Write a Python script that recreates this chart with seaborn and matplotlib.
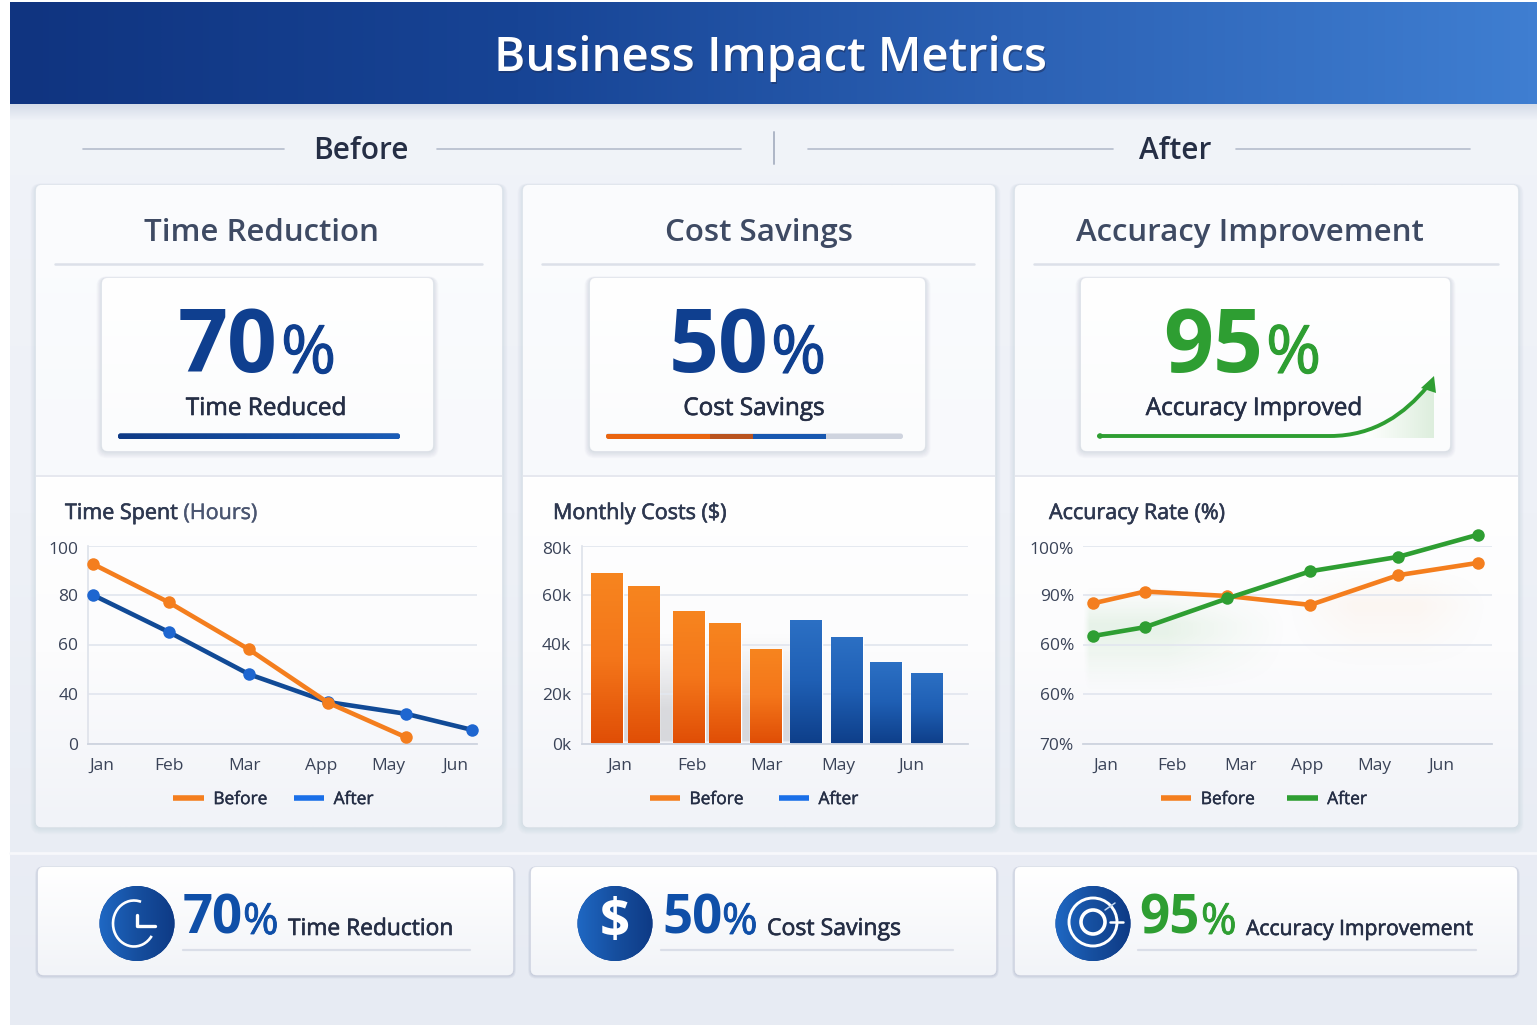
import numpy as np
import pandas as pd
import seaborn as sns
import matplotlib
matplotlib.use("Agg")
import matplotlib.pyplot as plt
import matplotlib.patheffects as pe
from matplotlib.colors import LinearSegmentedColormap, to_hex, to_rgb
from matplotlib.lines import Line2D
from matplotlib.patches import FancyBboxPatch, Circle, PathPatch, Polygon, Arc
from matplotlib.path import Path
from matplotlib.transforms import ScaledTranslation

# ---- chart data ----
time_months = [-0.127, 0.949, 2.082, 3.201, 4.306, 5.241]
time_before = [92.5, 77, 58, 33, 5]
time_after = [80, 65, 48, 33.5, 24, 11]
time_ticks = [0, 40, 60, 80, 100]
time_tick_pos = [0, 0.949, 2.025, 3.1, 4.05, 5.0]
time_labels = ["Jan", "Feb", "Mar", "App", "May", "Jun"]

cost_months = [-0.179, 0.323, 0.948, 1.443, 2.007, 2.557, 3.12, 3.66, 4.213]
cost_values = [68.8, 63.7, 53.7, 48.8, 38, 49.7, 43.1, 32.8, 28.4]
cost_period = ["Before"] * 5 + ["After"] * 4
cost_ticks = [0, 20, 40, 60, 80]
cost_tick_labels = ["0k", "20k", "40k", "60k", "80k"]
cost_tick_pos = [0, 0.99, 2.02, 2.997, 4.0]
cost_labels = ["Jan", "Feb", "Mar", "May", "Jun"]

acc_months = [-0.199, 0.582, 1.81, 3.05, 4.36, 5.557]
acc_before = [88.3, 90.7, 89.8, 88.0, 94.0, 96.5]
acc_after = [81.7, 83.5, 89.3, 94.8, 97.7, 102.2]
acc_ticks = [60, 70, 80, 90, 100]
acc_tick_labels = ["70%", "60%", "60%", "90%", "100%"]
acc_tick_pos = [0, 0.985, 2, 3, 4, 5]
acc_labels = ["Jan", "Feb", "Mar", "App", "May", "Jun"]

# ---- palette ----
ORANGE = "#F47E1E"
NAVY = "#0F3F8F"
ROYAL = "#1A6FE8"
GREEN = "#2E9E32"
INK = "#252E45"
SLATE = "#3E4A63"
GRID = "#E3E7EF"

W, H = 1537, 1029
sns.set_theme(style="white")
plt.rcParams["font.family"] = ["Open Sans", "DejaVu Sans"]
fig = plt.figure(figsize=(W / 100, H / 100), dpi=100, facecolor="white")

canvas = fig.add_axes([0, 0, 1, 1], zorder=0)
canvas.set_xlim(0, W)
canvas.set_ylim(H, 0)
canvas.axis("off")


def medium(color, width=0.45):
    """Thicken regular glyphs a little, for a medium text weight."""
    return [pe.withStroke(linewidth=width, foreground=color)]


def ramp(colors):
    return LinearSegmentedColormap.from_list("ramp", colors)


def gradient(ax, extent, colors, horizontal=False, clip=None, zorder=1, alpha=None):
    """Paint a linear colour ramp over extent=(left, right, bottom, top)."""
    values = np.linspace(0, 1, 256)
    values = values[None, :] if horizontal else values[:, None]
    xlim, ylim = ax.get_xlim(), ax.get_ylim()
    img = ax.imshow(values, extent=extent, origin="upper", aspect="auto",
                    cmap=ramp(colors), vmin=0, vmax=1, zorder=zorder,
                    interpolation="bilinear", alpha=alpha)
    if clip is not None:
        img.set_clip_path(clip)
    ax.set_xlim(xlim)
    ax.set_ylim(ylim)
    return img


def haze(ax, extent, color, peak, zorder=0.4, fade_left=0.12, fade_right=0.5, fade_top=0.5, fade_bottom=0.5):
    """Soft translucent tint that fades out towards the edges of extent."""
    u = np.linspace(0, 1, 200)
    hor = np.clip(u / fade_left, 0, 1) * np.clip((1 - u) / fade_right, 0, 1)
    ver = np.clip(u / fade_top, 0, 1) * np.clip((1 - u) / fade_bottom, 0, 1)
    rgba = np.zeros((200, 200, 4))
    rgba[..., :3] = to_rgb(color)
    rgba[..., 3] = peak * np.outer(ver, hor) ** 1.3
    xlim, ylim = ax.get_xlim(), ax.get_ylim()
    ax.imshow(rgba, extent=extent, origin="upper", aspect="auto", zorder=zorder, interpolation="bilinear")
    ax.set_xlim(xlim)
    ax.set_ylim(ylim)


def rounded(x0, y0, x1, y1, radius=6, **kw):
    patch = FancyBboxPatch((x0, y0), x1 - x0, y1 - y0,
                           boxstyle=f"round,pad=0,rounding_size={radius}", **kw)
    canvas.add_patch(patch)
    return patch


def shadow(x0, y0, x1, y1, depth=8, color="#5C6E93", strength=0.016, zorder=2):
    for i in range(depth, 0, -1):
        rounded(x0 - i * 0.7, y0 - i * 0.2, x1 + i * 0.7, y1 + i * 0.9, radius=6 + i * 0.5,
                facecolor=color, edgecolor="none", alpha=strength, zorder=zorder)


def card(x0, y0, x1, y1, top="#FFFFFF", bottom="#F3F5F9", zorder=3, edge="#EAECF2", **shadow_kw):
    shadow(x0, y0, x1, y1, zorder=zorder - 1, **shadow_kw)
    base = rounded(x0, y0, x1, y1, facecolor="#FFFFFF", edgecolor=edge, linewidth=0.6, zorder=zorder)
    gradient(canvas, (x0, x1, y1, y0), [top, bottom], clip=base, zorder=zorder + 0.1)
    return base


# ---- page background and header ----
page = canvas.add_patch(plt.Rectangle((10, 2), W - 10, 1023, facecolor="#EEF1F7", edgecolor="none", zorder=0.5))
gradient(canvas, (10, W, 1025, 2), ["#F1F4F9", "#EEF1F7", "#E7EBF3"], clip=page, zorder=0.6)
canvas.plot([10, W], [853, 853], color="#F7F8FB", lw=2, zorder=0.7)

header = canvas.add_patch(plt.Rectangle((10, 2), W - 10, 102, facecolor=NAVY, edgecolor="none", zorder=0.8))
gradient(canvas, (10, W, 104, 2), ["#103480", "#174495", "#2C62B5", "#3F7ED1"], horizontal=True, clip=header, zorder=0.9)
gradient(canvas, (10, W, 120, 104), ["#B9C4D8", "#EEF1F7"], zorder=0.7, alpha=0.5)
canvas.text(771.5, 72.5, "Business Impact Metrics", color="#1E3260", fontsize=34, fontweight="semibold", ha="center", va="baseline", zorder=1, alpha=0.55)
canvas.text(770, 71, "Business Impact Metrics", color="white", fontsize=34, fontweight="semibold", ha="center", va="baseline", zorder=1.1)

# ---- before / after strip ----
for x0, x1 in [(83, 284), (437, 741), (808, 1113), (1236, 1470)]:
    canvas.plot([x0, x1], [148.5, 148.5], color="#B4BCCC", lw=1.2, zorder=1)
canvas.plot([774, 774], [132, 164], color="#AEB6C6", lw=1.4, zorder=1)
canvas.text(361, 159, "Before", color=INK, fontsize=21.5, fontweight="semibold", ha="center", va="baseline", zorder=1)
canvas.text(1175, 159, "After", color=INK, fontsize=21.5, fontweight="semibold", ha="center", va="baseline", zorder=1)

# ---- metric cards ----
panels = [
    dict(box=(36, 502), title="Time Reduction", cx=261, rule=(55, 482), inner=(102, 433),
         num="70", num_x=178, pct_x=281, color=NAVY, caption="Time Reduced", cap_x=266),
    dict(box=(523, 995), title="Cost Savings", cx=759, rule=(542, 974), inner=(590, 925),
         num="50", num_x=669, pct_x=771, color=NAVY, caption="Cost Savings", cap_x=754),
    dict(box=(1015, 1518), title="Accuracy Improvement", cx=1250, rule=(1034, 1498), inner=(1081, 1450),
         num="95", num_x=1163, pct_x=1266, color=GREEN, caption="Accuracy Improved", cap_x=1254),
]
for p in panels:
    x0, x1 = p["box"]
    outer = card(x0, 185, x1, 827, top="#FBFCFE", bottom="#F4F6FA", strength=0.016)
    gradient(canvas, (x0, x1, 827, 477), ["#FFFFFF", "#FCFCFD", "#F1F3F8"], clip=outer, zorder=3.2)
    canvas.plot([x0, x1], [476, 476], color="#E1E4EC", lw=1.1, zorder=3.3)
    canvas.text(p["cx"], 241, p["title"], color=SLATE, fontsize=22.5, fontweight="semibold", ha="center", va="baseline", zorder=4)
    canvas.plot(p["rule"], [263.5, 263.5], color="#DCE0E9", lw=1.8, zorder=4)
    card(p["inner"][0], 278, p["inner"][1], 451, top="#FFFFFF", bottom="#FBFCFD", zorder=5, strength=0.024)
    canvas.text(p["num_x"], 372, p["num"], color=p["color"], fontsize=63, fontweight="bold", ha="left", va="baseline", zorder=6)
    canvas.text(p["pct_x"], 373, "%", color=p["color"], fontsize=48, ha="left", va="baseline", zorder=6,
                path_effects=medium(p["color"], 0.8))
    canvas.text(p["cap_x"], 415, p["caption"], color=INK, fontsize=17.5, ha="center", va="baseline", zorder=6,
                path_effects=medium(INK))

# progress bars
bar1 = rounded(118, 433.5, 400, 439, radius=2.5, facecolor=NAVY, edgecolor="none", zorder=6)
gradient(canvas, (118, 400, 439, 433.5), ["#0F3A85", "#1A5DB8"], horizontal=True, clip=bar1, zorder=6.1)
bar2 = rounded(606, 433.5, 903, 439, radius=2.5, facecolor="#CFD4DF", edgecolor="none", zorder=6)
for (x0, x1), col in zip([(606, 710), (710, 753), (753, 826)], ["#EA6510", "#B9531F", "#1858B0"]):
    seg = canvas.add_patch(plt.Rectangle((x0, 433.5), x1 - x0, 5.5, facecolor=col, edgecolor="none", zorder=6.1))
    seg.set_clip_path(bar2)

# rising accuracy arrow
curve_verts = [(1099, 436), (1330, 436), (1375, 436), (1405, 413), (1427, 387)]
curve_codes = [Path.MOVETO, Path.LINETO, Path.CURVE4, Path.CURVE4, Path.CURVE4]
area = PathPatch(Path(curve_verts + [(1434, 380), (1434, 438), (1330, 438), (1099, 438)],
                      curve_codes + [Path.LINETO] * 4), facecolor="none", edgecolor="none", zorder=6)
canvas.add_patch(area)
gradient(canvas, (1365, 1434, 438, 380), ["#FFFFFF", "#DDEEDD"], horizontal=True, clip=area, zorder=6)
canvas.add_patch(PathPatch(Path(curve_verts, curve_codes), facecolor="none", edgecolor=GREEN, lw=2.8, capstyle="round", zorder=6.2))
canvas.add_patch(Polygon([(1434, 376), (1421, 388), (1436, 393)], closed=True, facecolor=GREEN, edgecolor="none", zorder=6.3))
canvas.add_patch(Circle((1100, 436), 2.8, facecolor=GREEN, edgecolor="none", zorder=6.3))


# ---- chart axes ----
def chart_axes(left, right, top=545.5, bottom=743.5):
    ax = fig.add_axes([left / W, 1 - bottom / H, (right - left) / W, (bottom - top) / H], zorder=5)
    ax.patch.set_alpha(0)
    for side in ("top", "right", "left", "bottom"):
        ax.spines[side].set_visible(False)
    return ax


def finish(ax, ypos, ylabels, xpos, xlabels, legend_center, after_color, spacing, left_axis=False, ypad=7):
    ax.set_yticks(ypos, ylabels)
    ax.set_xticks(xpos, xlabels)
    ax.minorticks_off()
    ax.set_xlabel("")
    ax.set_ylabel("")
    ax.tick_params(axis="both", length=0, labelsize=12.5, labelcolor="#3A4358")
    ax.tick_params(axis="x", pad=10.5)
    ax.tick_params(axis="y", pad=ypad)
    ax.grid(axis="y", color=GRID, lw=1.3)
    ax.grid(axis="x", visible=False)
    ax.set_axisbelow(True)
    ax.spines["bottom"].set_visible(True)
    ax.spines["bottom"].set_color("#CED4DF")
    ax.spines["bottom"].set_linewidth(1.3)
    if left_axis:
        ax.spines["left"].set_visible(True)
        ax.spines["left"].set_color("#DFE3EB")
    # the topmost y label sits a little below its gridline
    top_label = ax.get_yticklabels()[-1]
    top_label.set_transform(top_label.get_transform() + ScaledTranslation(0, -3 / 100, fig.dpi_scale_trans))
    handles = [Line2D([], [], color=ORANGE, lw=4.0, solid_capstyle="butt", label="Before"),
               Line2D([], [], color=after_color, lw=4.0, solid_capstyle="butt", label="After")]
    leg = ax.legend(handles=handles, ncol=2, frameon=False, loc="center",
                    bbox_to_anchor=(legend_center[0] / W, 1 - legend_center[1] / H),
                    bbox_transform=fig.transFigure, fontsize=12.5,
                    handlelength=1.75, handletextpad=0.55, columnspacing=spacing)
    for label in leg.get_texts():
        label.set_color(INK)
        label.set_path_effects(medium(INK, 0.3))


def month_limits(ax, left, right, origin, unit):
    ax.set_xlim((left - origin) / unit, (right - origin) / unit)


def series(ax, months, values, line, dot):
    n = len(values)
    sns.lineplot(x=months[:n], y=values, ax=ax, color=line, lw=3.3, marker="o", markersize=9,
                 markeredgewidth=0, markerfacecolor=dot, clip_on=False, sort=False, zorder=4, legend=False)


# hours chart: axis ticks sit evenly spaced, so the scale is piecewise
ax1 = chart_axes(88, 477)
knots = np.array(time_ticks, dtype=float)
steps = np.arange(len(knots), dtype=float)
series(ax1, time_months, time_after, "#114A96", "#1E66D0")
series(ax1, time_months, time_before, ORANGE, ORANGE)
ax1.set_yscale("function", functions=(lambda v: np.interp(v, knots, steps), lambda s: np.interp(s, steps, knots)))
ax1.set_ylim(0, 100)
month_limits(ax1, 88, 477, 102, 70.6)
finish(ax1, time_ticks, [str(t) for t in time_ticks], time_tick_pos, time_labels, (273.5, 800), ROYAL, 1.5, left_axis=True)

# cost chart: bars are repainted with a vertical ramp, clipped to each seaborn bar
ax2 = chart_axes(582, 968)
cost_frame = pd.DataFrame({"month": cost_months, "cost": cost_values, "period": cost_period})
bar_palette = {"Before": "#F47E1E", "After": "#1E62BE"}
sns.barplot(data=cost_frame, x="month", y="cost", hue="period", palette=bar_palette, dodge=False,
            native_scale=True, width=0.88, ax=ax2, legend=False, saturation=1, errorbar=None)
ax2.set_ylim(0, 80)
month_limits(ax2, 582, 968, 620, 72.75)
bar_ramps = {to_hex(bar_palette["Before"]): ["#F7851F", "#F4761A", "#E04E06"],
             to_hex(bar_palette["After"]): ["#2C70C4", "#1F5FB4", "#0E3F8A"]}
for bar in ax2.patches:
    x, w, h = bar.get_x(), bar.get_width(), bar.get_height()
    gradient(ax2, (x, x + w, 0, h), bar_ramps[to_hex(bar.get_facecolor())], clip=bar, zorder=3)
haze(ax2, (-0.3, 2.7, 0, 45), "#8A8A90", 0.28, fade_left=0.05, fade_right=0.05, fade_top=0.7, fade_bottom=0.02)
finish(ax2, cost_ticks, cost_tick_labels, cost_tick_pos, cost_labels, (754, 800), ROYAL, 2.0, left_axis=True, ypad=8)

# accuracy chart: soft tint below each series, then the two lines
ax3 = chart_axes(1083, 1492)
ax3.set_ylim(60, 100)
month_limits(ax3, 1083, 1492, 1106, 67)
haze(ax3, (-0.35, 2.8, 70, 92), GREEN, 0.10, fade_left=0.03, fade_right=0.6, fade_top=0.35, fade_bottom=0.55)
haze(ax3, (2.6, 5.8, 74, 96), ORANGE, 0.05, fade_left=0.35, fade_right=0.35, fade_top=0.35, fade_bottom=0.6)
series(ax3, acc_months, acc_before, ORANGE, ORANGE)
series(ax3, acc_months, acc_after, GREEN, GREEN)
ax3.set_ylim(60, 100)
month_limits(ax3, 1083, 1492, 1106, 67)
finish(ax3, acc_ticks, acc_tick_labels, acc_tick_pos, acc_labels, (1264, 800), GREEN, 1.85, ypad=6.5)

for text_x, bold, light in [(65, "Time Spent", "(Hours)"), (553, "Monthly Costs ($)", ""), (1049, "Accuracy Rate (%)", "")]:
    head = canvas.text(text_x, 519, bold, color="#2E3850", fontsize=15.5, ha="left", va="baseline", zorder=6,
                       path_effects=medium("#2E3850", 0.45))
    if light:
        canvas.annotate(" " + light, xy=(1, 0), xycoords=head, va="bottom", ha="left", color="#4A5570", fontsize=15.5, zorder=6,
                        path_effects=medium("#4A5570", 0.3))

# ---- summary row ----
summary = [
    dict(box=(38, 513), icon=137, num="70", num_x=183, pct_x=243, color="#0F4FA8", text="Time Reduction", size=16.4, text_x=288, rule=(183, 470)),
    dict(box=(531, 996), icon=615, num="50", num_x=662, pct_x=722, color="#0F4FA8", text="Cost Savings", size=16.6, text_x=767, rule=(661, 953)),
    dict(box=(1015, 1517), icon=1093, num="95", num_x=1139, pct_x=1201, color=GREEN, text="Accuracy Improvement", size=15.2, text_x=1246, rule=(1138, 1476)),
]
for s in summary:
    card(s["box"][0], 867, s["box"][1], 975, top="#FFFFFF", bottom="#F2F4F8", strength=0.06, depth=4, color="#4F6288")
    disc = Circle((s["icon"], 923.5), 37.5, facecolor=NAVY, edgecolor="none", zorder=6)
    canvas.add_patch(disc)
    gradient(canvas, (s["icon"] - 38, s["icon"] + 38, 961, 886), ["#1F68C4", "#164F9F", "#0E3A85"], horizontal=True, clip=disc, zorder=6.1)
    canvas.text(s["num_x"], 934, s["num"], color=s["color"], fontsize=38, fontweight="bold", ha="left", va="baseline", zorder=6)
    canvas.text(s["pct_x"], 934, "%", color=s["color"], fontsize=31, ha="left", va="baseline", zorder=6,
                path_effects=medium(s["color"], 0.6))
    canvas.text(s["text_x"], 935, s["text"], color=INK, fontsize=s["size"], ha="left", va="baseline", zorder=6,
                path_effects=medium(INK))
    canvas.plot(s["rule"], [949.5, 949.5], color="#DADEE8", lw=1.6, zorder=6)

# clock icon
canvas.add_patch(Arc((134, 923.5), 42, 46, theta1=35, theta2=288, edgecolor="white", lw=1.9, zorder=7))
canvas.plot([137, 137, 155], [915, 926, 926], color="white", lw=2.4, solid_capstyle="round", solid_joinstyle="round", zorder=7)

# dollar icon
canvas.text(615, 923, "$", color="white", fontsize=38, fontweight="bold", ha="center", va="center", zorder=7)

# target icon
for radius, weight in [(24, 2.1), (12, 2.6)]:
    canvas.add_patch(Circle((1093, 922), radius, facecolor="none", edgecolor="white", lw=weight, zorder=7))
canvas.plot([1110, 1123], [922, 922], color="white", lw=1.8, zorder=7)
canvas.plot([1105, 1115], [910, 903], color="#BFD4F0", lw=1.1, zorder=7)

fig.savefig("out.png", dpi=100, facecolor="white")
